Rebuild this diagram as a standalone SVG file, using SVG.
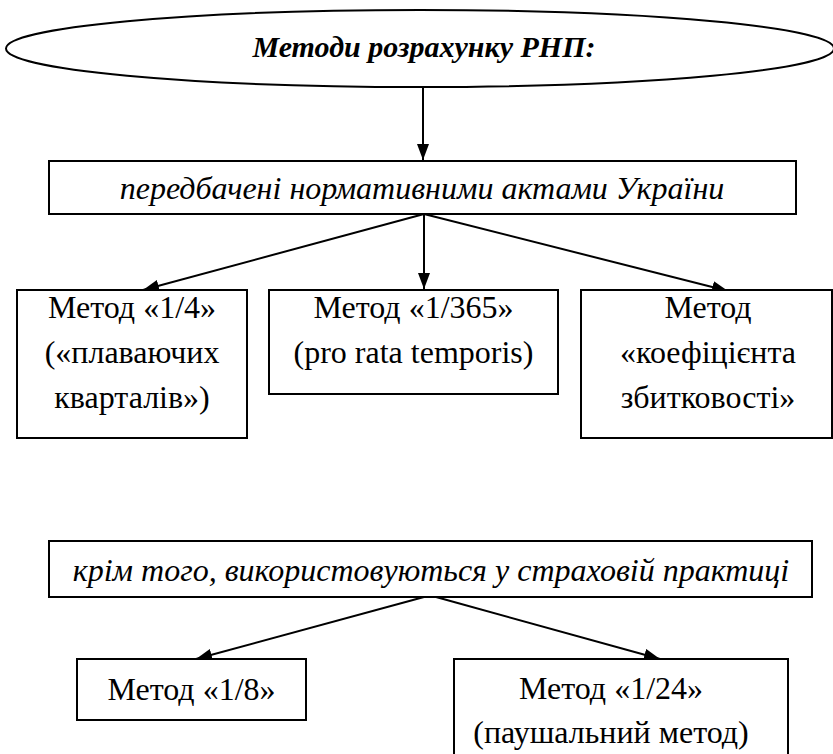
<svg xmlns="http://www.w3.org/2000/svg" width="833" height="754" viewBox="0 0 833 754">
<style>
.box{fill:#fff;stroke:#000;stroke-width:2}
.t{font-family:'Liberation Serif','Times New Roman',serif;font-size:32px;fill:#000;text-anchor:middle}
.i{font-style:italic}
.title{font-style:italic;font-weight:bold;font-size:30px}
.edge{stroke:#000;stroke-width:2;fill:none;marker-end:url(#ah)}
</style>
<defs>
<marker id="ah" markerUnits="userSpaceOnUse" markerWidth="16" markerHeight="12" refX="16" refY="6" orient="auto">
<path d="M0,0 L16,6 L0,12 z" fill="#000"/>
</marker>
</defs>
<rect width="833" height="754" fill="#fff"/>
<g id="connectors">
<line class="edge" x1="423" y1="87" x2="423" y2="160"/>
<line class="edge" x1="424" y1="214" x2="143" y2="290"/>
<line class="edge" x1="424" y1="214" x2="424" y2="289"/>
<line class="edge" x1="424" y1="214" x2="728" y2="291"/>
<line class="edge" x1="424" y1="597" x2="196" y2="659"/>
<line class="edge" x1="436" y1="597" x2="660" y2="659"/>
</g>
<g font-family="Liberation Serif">
<g id="root">
<ellipse class="box" cx="420" cy="48.5" rx="414" ry="38.5"/>
<text class="t title" x="424" y="57">Методи розрахунку РНП:</text>
</g>
<g id="normative">
<rect class="box" x="49" y="161" width="747" height="53"/>
<text class="t i" x="422" y="199">передбачені нормативними актами України</text>
</g>
<g id="m14">
<rect class="box" x="17" y="290" width="230" height="148"/>
<text class="t" x="132" y="318">Метод «1/4»</text>
<text class="t" x="132" y="363">(«плаваючих</text>
<text class="t" x="132" y="408">кварталів»)</text>
</g>
<g id="m365">
<rect class="box" x="269" y="290" width="289" height="104"/>
<text class="t" x="413.5" y="318">Метод «1/365»</text>
<text class="t" x="413.5" y="363">(pro rata temporis)</text>
</g>
<g id="mkoef">
<rect class="box" x="581" y="290" width="251" height="148"/>
<text class="t" x="708" y="318">Метод</text>
<text class="t" x="708" y="363">«коефіцієнта</text>
<text class="t" x="708" y="408">збитковості»</text>
</g>
<g id="practice">
<rect class="box" x="49" y="541" width="763" height="56"/>
<text class="t i" x="431" y="581">крім того, використовуються у страховій практиці</text>
</g>
<g id="m18">
<rect class="box" x="77" y="659" width="229" height="61"/>
<text class="t" x="191.5" y="700">Метод «1/8»</text>
</g>
<g id="m124">
<rect class="box" x="454" y="659" width="334" height="110"/>
<text class="t" x="611" y="699">Метод «1/24»</text>
<text class="t" x="611" y="743">(паушальний метод)</text>
</g>
</g>
</svg>
